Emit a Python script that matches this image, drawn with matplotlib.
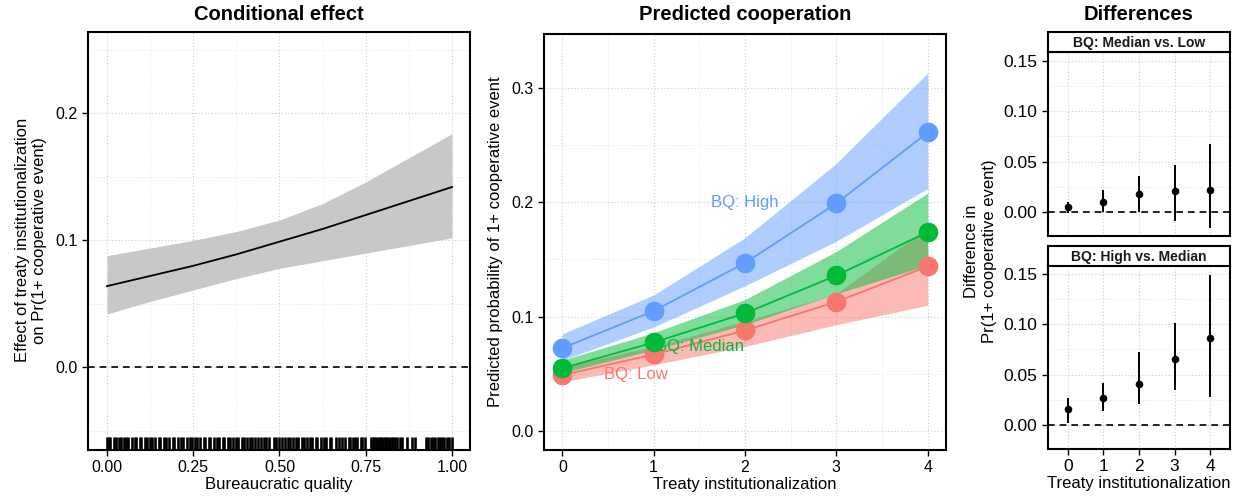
import matplotlib
matplotlib.use("Agg")
import matplotlib.pyplot as plt
import numpy as np

plt.rcParams['font.family'] = ['Liberation Sans', 'DejaVu Sans']

# --- data ---------------------------------------------------------------
# conditional effect of treaty institutionalization over bureaucratic quality
bq_grid = [0.0, 0.125, 0.25, 0.375, 0.5, 0.625, 0.75, 0.875, 1.0]
eff_mid = [0.064, 0.072, 0.080, 0.089, 0.099, 0.109, 0.120, 0.131, 0.142]
eff_lo = [0.042, 0.052, 0.061, 0.070, 0.078, 0.084, 0.090, 0.096, 0.102]
eff_hi = [0.088, 0.094, 0.100, 0.107, 0.116, 0.129, 0.146, 0.165, 0.184]

rug_bq = [0.000, 0.005, 0.010, 0.020, 0.025, 0.035, 0.040, 0.050, 0.055, 0.062,
          0.072, 0.080, 0.085, 0.095, 0.100, 0.110, 0.115, 0.125, 0.130, 0.140,
          0.150, 0.155, 0.165, 0.170, 0.180, 0.190, 0.195, 0.205, 0.215, 0.220,
          0.232, 0.240, 0.245, 0.255, 0.262, 0.270, 0.280, 0.285, 0.295, 0.300,
          0.310, 0.318, 0.325, 0.335, 0.340, 0.350, 0.358, 0.365, 0.375, 0.380,
          0.390, 0.397, 0.405, 0.415, 0.420, 0.430, 0.437, 0.445, 0.455, 0.462,
          0.470, 0.485, 0.490, 0.500, 0.507, 0.515, 0.525, 0.530, 0.540, 0.547,
          0.555, 0.565, 0.570, 0.580, 0.588, 0.595, 0.605, 0.610, 0.620, 0.628,
          0.635, 0.645, 0.650, 0.665, 0.672, 0.680, 0.690, 0.700, 0.705, 0.712,
          0.720, 0.725, 0.735, 0.740, 0.748, 0.765, 0.770, 0.775, 0.780, 0.785,
          0.790, 0.795, 0.800, 0.805, 0.810, 0.815, 0.820, 0.825, 0.830, 0.835,
          0.840, 0.848, 0.855, 0.870, 0.885, 0.892, 0.925, 0.930, 0.938, 0.945,
          0.950, 0.958, 0.965, 0.972, 0.978, 0.985, 0.992, 1.000]

# predicted cooperation by treaty institutionalization
treaty = [0, 1, 2, 3, 4]
low_fit = [0.049, 0.067, 0.088, 0.113, 0.144]
low_lo = [0.043, 0.058, 0.074, 0.093, 0.110]
low_hi = [0.056, 0.074, 0.096, 0.120, 0.178]
med_fit = [0.055, 0.0775, 0.103, 0.136, 0.174]
med_lo = [0.051, 0.071, 0.093, 0.120, 0.145]
med_hi = [0.062, 0.086, 0.115, 0.157, 0.208]
high_fit = [0.0725, 0.105, 0.147, 0.199, 0.261]
high_lo = [0.062, 0.091, 0.127, 0.166, 0.212]
high_hi = [0.085, 0.119, 0.169, 0.234, 0.313]

# differences
d_ml = [0.0056, 0.0105, 0.0178, 0.0214, 0.022]
d_ml_lo = [-0.001, 0.000, 0.0005, -0.009, -0.016]
d_ml_hi = [0.0105, 0.022, 0.036, 0.047, 0.067]
d_hm = [0.0157, 0.027, 0.041, 0.065, 0.0866]
d_hm_lo = [0.002, 0.014, 0.0206, 0.035, 0.028]
d_hm_hi = [0.027, 0.042, 0.072, 0.1007, 0.149]

RED, GREEN, BLUE = '#F8766D', '#00BA38', '#619CFF'
TICK = 11.5
LAB = 12
TITLE = 14.5


def style(ax, xmaj, xmin, ymaj, ymin, tick=TICK):
    ax.set_xticks(xmaj)
    ax.set_xticks(xmin, minor=True)
    ax.set_yticks(ymaj)
    ax.set_yticks(ymin, minor=True)
    ax.grid(which='major', color='#cccccc', linestyle=(0, (1, 2)), linewidth=0.8)
    ax.grid(which='minor', color='#dddddd', linestyle=(0, (1, 2)), linewidth=0.6)
    ax.set_axisbelow(True)
    for s in ax.spines.values():
        s.set_linewidth(1.5)
    ax.tick_params(which='major', length=4, width=1, labelsize=tick, colors='black')
    ax.tick_params(which='minor', length=0)


fig = plt.figure(figsize=(12.41, 4.96), dpi=100)

# --- left: conditional effect -------------------------------------------
ax1 = fig.add_axes([0.0709, 0.0927, 0.3078, 0.8427])
ax1.fill_between(bq_grid, eff_lo, eff_hi, color='#c8c8c8', linewidth=0)
ax1.plot(bq_grid, eff_mid, color='black', linewidth=1.3)
ax1.axhline(0, color='black', linestyle=(0, (4, 3)), linewidth=1.2)
ax1.set_xlim(-0.055, 1.052)
ax1.set_ylim(-0.065, 0.264)
trans = ax1.get_xaxis_transform()
ax1.vlines(rug_bq, 0, 0.032, transform=trans, color='black', linewidth=1.9)
style(ax1, [0, 0.25, 0.5, 0.75, 1.0], [0.125, 0.375, 0.625, 0.875],
      [0.0, 0.1, 0.2], [-0.05, 0.05, 0.15, 0.25])
ax1.set_xticklabels(['0.00', '0.25', '0.50', '0.75', '1.00'])
ax1.set_yticklabels(['0.0', '0.1', '0.2'])
ax1.set_xlabel('Bureaucratic quality', fontsize=LAB, labelpad=1)
fig.text(0.025, 0.516, 'Effect of treaty institutionalization\non Pr(1+ cooperative event)',
         fontsize=LAB, rotation=90, ha='center', va='center', multialignment='center')
fig.text(0.2248, 0.970, 'Conditional effect', fontsize=TITLE, fontweight='bold',
         ha='center', va='center')

# --- middle: predicted cooperation --------------------------------------
ax2 = fig.add_axes([0.4384, 0.0927, 0.3239, 0.8387])
for fit, lo, hi, col in [(low_fit, low_lo, low_hi, RED),
                         (med_fit, med_lo, med_hi, GREEN),
                         (high_fit, high_lo, high_hi, BLUE)]:
    ax2.fill_between(treaty, lo, hi, color=col, alpha=0.5, linewidth=0)
for fit, col in [(low_fit, RED), (med_fit, GREEN), (high_fit, BLUE)]:
    ax2.plot(treaty, fit, color=col, linewidth=1.3)
    ax2.scatter(treaty, fit, s=200, color=col, zorder=3, linewidths=0)
ax2.text(2.0, 0.200, 'BQ: High', color=BLUE, fontsize=LAB, ha='center', va='center')
ax2.text(1.51, 0.074, 'BQ: Median', color=GREEN, fontsize=LAB, ha='center', va='center')
ax2.text(0.81, 0.0495, 'BQ: Low', color=RED, fontsize=LAB, ha='center', va='center')
ax2.set_xlim(-0.2, 4.2)
ax2.set_ylim(-0.0165, 0.347)
style(ax2, treaty, [0.5, 1.5, 2.5, 3.5], [0.0, 0.1, 0.2, 0.3], [0.05, 0.15, 0.25])
ax2.set_yticklabels(['0.0', '0.1', '0.2', '0.3'])
ax2.set_xlabel('Treaty institutionalization', fontsize=LAB, labelpad=1)
fig.text(0.399, 0.512, 'Predicted probability of 1+ cooperative event', fontsize=LAB,
         rotation=90, ha='center', va='center')
fig.text(0.6003, 0.970, 'Predicted cooperation', fontsize=TITLE, fontweight='bold',
         ha='center', va='center')

# --- right: differences -------------------------------------------------
panels = [('BQ: Median vs. Low', d_ml, d_ml_lo, d_ml_hi, 0.5242, 0.8952),
          ('BQ: High vs. Median', d_hm, d_hm_lo, d_hm_hi, 0.0948, 0.4637)]
for i, (lab, est, lo, hi, bot, sbot) in enumerate(panels):
    ax = fig.add_axes([0.8445, bot, 0.1467, 0.370])
    ax.axhline(0, color='black', linestyle=(0, (4, 3)), linewidth=1.2)
    ax.vlines(treaty, lo, hi, color='black', linewidth=1.4)
    ax.scatter(treaty, est, s=30, color='black', zorder=3, linewidths=0)
    ax.set_xlim(-0.56, 4.56)
    ax.set_ylim(-0.0235, 0.158)
    style(ax, treaty, [], [0.0, 0.05, 0.10, 0.15], [0.025, 0.075, 0.125], tick=12.5)
    ax.set_yticklabels(['0.00', '0.05', '0.10', '0.15'])
    if i == 0:
        ax.tick_params(axis='x', length=0, labelbottom=False)
    else:
        ax.set_xlabel('Treaty institutionalization', fontsize=LAB, labelpad=1)
    sax = fig.add_axes([0.8445, sbot, 0.1467, 0.0403])
    sax.set_xticks([])
    sax.set_yticks([])
    for s in sax.spines.values():
        s.set_linewidth(1.5)
    sax.text(0.5, 0.45, lab, fontsize=10, fontweight='bold', color='#1a1a1a',
             ha='center', va='center', transform=sax.transAxes)

fig.text(0.790, 0.494, 'Difference in\nPr(1+ cooperative event)', fontsize=LAB,
         rotation=90, ha='center', va='center', multialignment='center')
fig.text(0.9178, 0.970, 'Differences', fontsize=TITLE, fontweight='bold',
         ha='center', va='center')

fig.savefig('out.png', dpi=100)
